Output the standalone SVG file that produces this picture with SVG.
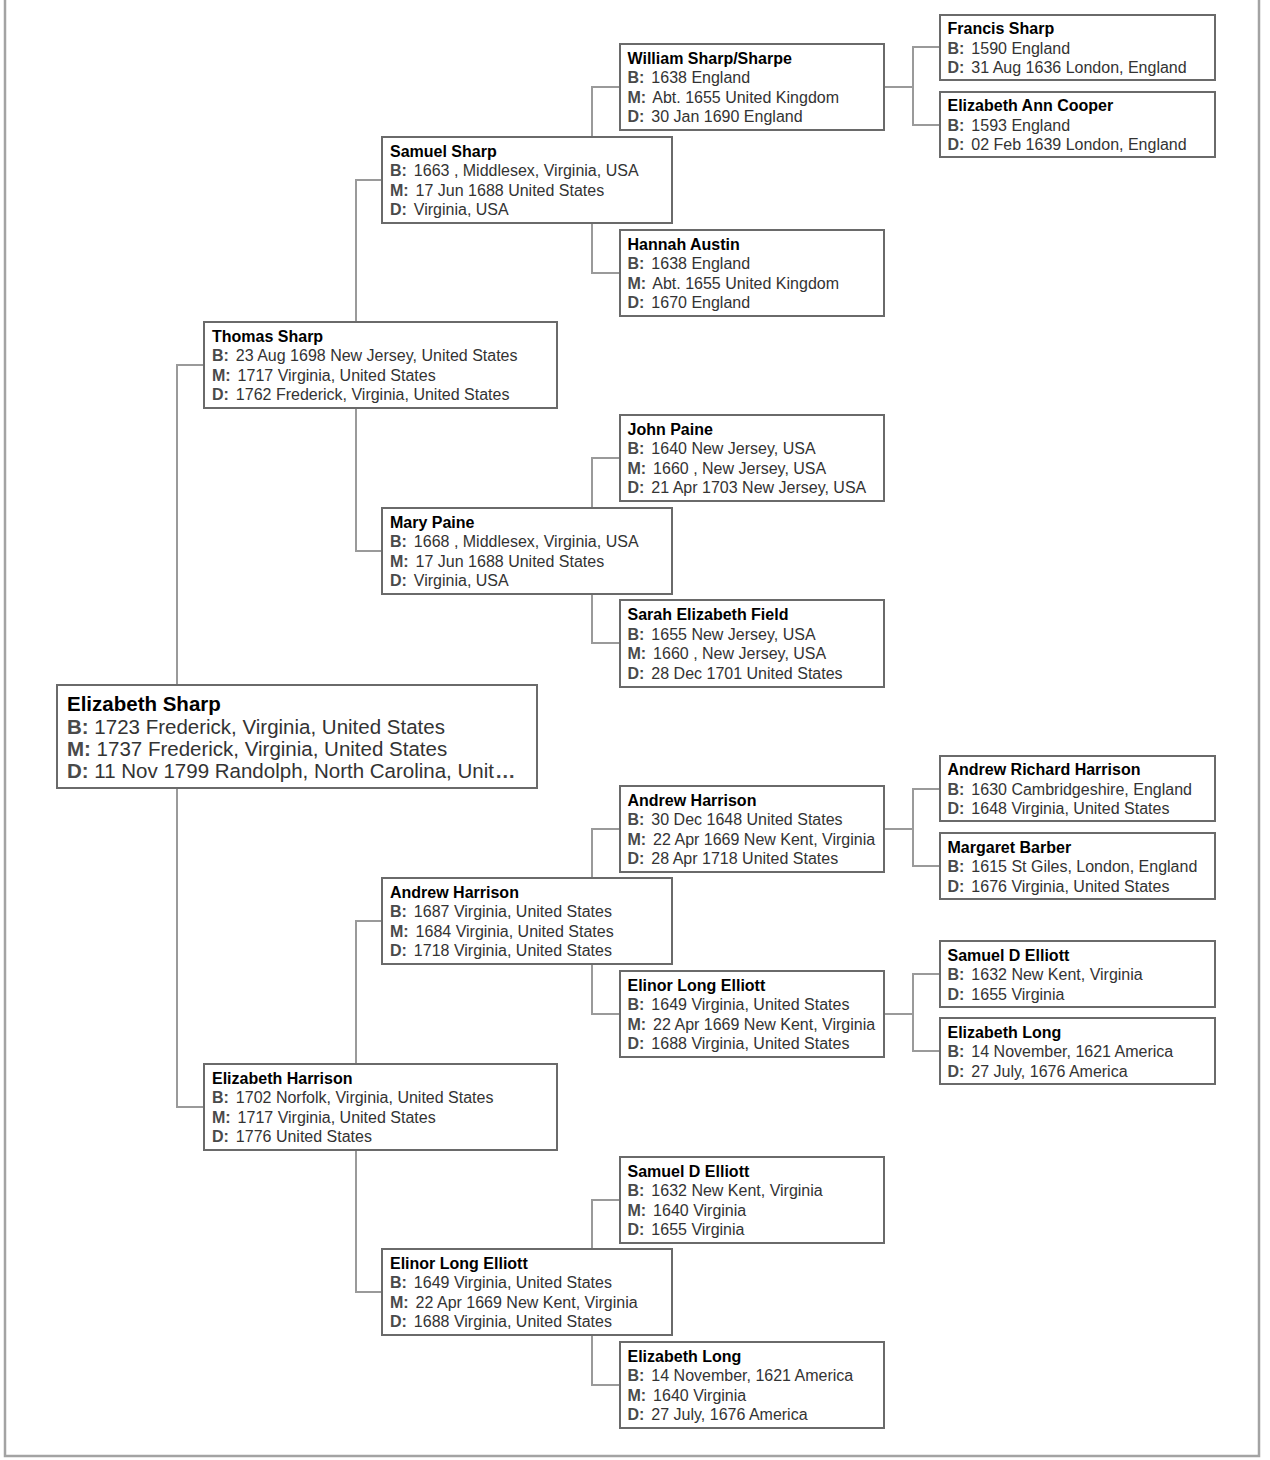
<svg xmlns="http://www.w3.org/2000/svg" width="1270" height="1460" viewBox="0 0 1270 1460">
<style>
.frame{fill:none;stroke:#a3a3a3;stroke-width:2.5}
.box{fill:#fff;stroke:#6a6a6a;stroke-width:2}
.con path{fill:none;stroke:#9a9a9a;stroke-width:2}
text{font-family:"Liberation Sans",Arial,Helvetica,sans-serif;font-size:16px;fill:#333}
text.n{font-weight:bold;fill:#000}
tspan.l{font-weight:bold;fill:#4a4a4a}
.big text{font-size:20.5px}
</style>
<rect width="1270" height="1460" fill="#fff"/>
<rect class="frame" x="5" y="-20" width="1254" height="1476"/>

<g class="con">
<path d="M177 685V365H204M177 788V1107H204"/>
<path d="M356 322V180H382M356 408V551H382"/>
<path d="M356 1064V921H382M356 1150V1292H382"/>
<path d="M592 137V87H620M592 223V273H620"/>
<path d="M592 508V458H620M592 594V643H620"/>
<path d="M592 878V829H620M592 964V1014H620"/>
<path d="M592 1249V1200H620M592 1335V1385H620"/>
<path d="M884 87H913M940 47H913V125H940"/>
<path d="M884 829H913M940 789H913V866H940"/>
<path d="M884 1014H913M940 974H913V1051H940"/>
</g>

<g id="francis-sharp" transform="translate(940,15)">
<rect class="box" width="275" height="65"/>
<text class="n" x="7.5" y="19">Francis Sharp</text>
<text x="7.5" y="38.5"><tspan class="l">B:</tspan><tspan dx="2.5"> 1590 England</tspan></text>
<text x="7.5" y="58"><tspan class="l">D:</tspan><tspan dx="2.5"> 31 Aug 1636 London, England</tspan></text>
</g>
<g id="elizabeth-ann-cooper" transform="translate(940,92)">
<rect class="box" width="275" height="65"/>
<text class="n" x="7.5" y="19">Elizabeth Ann Cooper</text>
<text x="7.5" y="38.5"><tspan class="l">B:</tspan><tspan dx="2.5"> 1593 England</tspan></text>
<text x="7.5" y="58"><tspan class="l">D:</tspan><tspan dx="2.5"> 02 Feb 1639 London, England</tspan></text>
</g>
<g id="william-sharp" transform="translate(620,44)">
<rect class="box" width="264" height="86"/>
<text class="n" x="7.5" y="19.5">William Sharp/Sharpe</text>
<text x="7.5" y="39"><tspan class="l">B:</tspan><tspan dx="2.5"> 1638 England</tspan></text>
<text x="7.5" y="58.5"><tspan class="l">M:</tspan><tspan dx="2.5"> Abt. 1655 United Kingdom</tspan></text>
<text x="7.5" y="78"><tspan class="l">D:</tspan><tspan dx="2.5"> 30 Jan 1690 England</tspan></text>
</g>
<g id="samuel-sharp" transform="translate(382,137)">
<rect class="box" width="290" height="86"/>
<text class="n" x="8" y="19.5">Samuel Sharp</text>
<text x="8" y="39"><tspan class="l">B:</tspan><tspan dx="2.5"> 1663 , Middlesex, Virginia, USA</tspan></text>
<text x="8" y="58.5"><tspan class="l">M:</tspan><tspan dx="2.5"> 17 Jun 1688 United States</tspan></text>
<text x="8" y="78"><tspan class="l">D:</tspan><tspan dx="2.5"> Virginia, USA</tspan></text>
</g>
<g id="hannah-austin" transform="translate(620,230)">
<rect class="box" width="264" height="86"/>
<text class="n" x="7.5" y="19.5">Hannah Austin</text>
<text x="7.5" y="39"><tspan class="l">B:</tspan><tspan dx="2.5"> 1638 England</tspan></text>
<text x="7.5" y="58.5"><tspan class="l">M:</tspan><tspan dx="2.5"> Abt. 1655 United Kingdom</tspan></text>
<text x="7.5" y="78"><tspan class="l">D:</tspan><tspan dx="2.5"> 1670 England</tspan></text>
</g>
<g id="thomas-sharp" transform="translate(204,322)">
<rect class="box" width="353" height="86"/>
<text class="n" x="8" y="19.5">Thomas Sharp</text>
<text x="8" y="39"><tspan class="l">B:</tspan><tspan dx="2.5"> 23 Aug 1698 New Jersey, United States</tspan></text>
<text x="8" y="58.5"><tspan class="l">M:</tspan><tspan dx="2.5"> 1717 Virginia, United States</tspan></text>
<text x="8" y="78"><tspan class="l">D:</tspan><tspan dx="2.5"> 1762 Frederick, Virginia, United States</tspan></text>
</g>
<g id="john-paine" transform="translate(620,415)">
<rect class="box" width="264" height="86"/>
<text class="n" x="7.5" y="19.5">John Paine</text>
<text x="7.5" y="39"><tspan class="l">B:</tspan><tspan dx="2.5"> 1640 New Jersey, USA</tspan></text>
<text x="7.5" y="58.5"><tspan class="l">M:</tspan><tspan dx="2.5"> 1660 , New Jersey, USA</tspan></text>
<text x="7.5" y="78"><tspan class="l">D:</tspan><tspan dx="2.5"> 21 Apr 1703 New Jersey, USA</tspan></text>
</g>
<g id="mary-paine" transform="translate(382,508)">
<rect class="box" width="290" height="86"/>
<text class="n" x="8" y="19.5">Mary Paine</text>
<text x="8" y="39"><tspan class="l">B:</tspan><tspan dx="2.5"> 1668 , Middlesex, Virginia, USA</tspan></text>
<text x="8" y="58.5"><tspan class="l">M:</tspan><tspan dx="2.5"> 17 Jun 1688 United States</tspan></text>
<text x="8" y="78"><tspan class="l">D:</tspan><tspan dx="2.5"> Virginia, USA</tspan></text>
</g>
<g id="sarah-elizabeth-field" transform="translate(620,600)">
<rect class="box" width="264" height="87"/>
<text class="n" x="7.5" y="20">Sarah Elizabeth Field</text>
<text x="7.5" y="39.5"><tspan class="l">B:</tspan><tspan dx="2.5"> 1655 New Jersey, USA</tspan></text>
<text x="7.5" y="59"><tspan class="l">M:</tspan><tspan dx="2.5"> 1660 , New Jersey, USA</tspan></text>
<text x="7.5" y="78.5"><tspan class="l">D:</tspan><tspan dx="2.5"> 28 Dec 1701 United States</tspan></text>
</g>
<g id="elizabeth-sharp" class="big" transform="translate(57,685)">
<rect class="box" width="480" height="103"/>
<text class="n" x="10" y="26">Elizabeth Sharp</text>
<text x="10" y="48.5"><tspan class="l">B:</tspan> 1723 Frederick, Virginia, United States</text>
<text x="10" y="70.5"><tspan class="l">M:</tspan> 1737 Frederick, Virginia, United States</text>
<text x="10" y="93"><tspan class="l">D:</tspan> 11 Nov 1799 Randolph, North Carolina, Unit<tspan class="l" dx="1">…</tspan></text>
</g>
<g id="andrew-richard-harrison" transform="translate(940,756)">
<rect class="box" width="275" height="65"/>
<text class="n" x="7.5" y="19">Andrew Richard Harrison</text>
<text x="7.5" y="38.5"><tspan class="l">B:</tspan><tspan dx="2.5"> 1630 Cambridgeshire, England</tspan></text>
<text x="7.5" y="58"><tspan class="l">D:</tspan><tspan dx="2.5"> 1648 Virginia, United States</tspan></text>
</g>
<g id="andrew-harrison-1648" transform="translate(620,786)">
<rect class="box" width="264" height="86"/>
<text class="n" x="7.5" y="19.5">Andrew Harrison</text>
<text x="7.5" y="39"><tspan class="l">B:</tspan><tspan dx="2.5"> 30 Dec 1648 United States</tspan></text>
<text x="7.5" y="58.5"><tspan class="l">M:</tspan><tspan dx="2.5"> 22 Apr 1669 New Kent, Virginia</tspan></text>
<text x="7.5" y="78"><tspan class="l">D:</tspan><tspan dx="2.5"> 28 Apr 1718 United States</tspan></text>
</g>
<g id="margaret-barber" transform="translate(940,833)">
<rect class="box" width="275" height="66"/>
<text class="n" x="7.5" y="19.5">Margaret Barber</text>
<text x="7.5" y="39"><tspan class="l">B:</tspan><tspan dx="2.5"> 1615 St Giles, London, England</tspan></text>
<text x="7.5" y="58.5"><tspan class="l">D:</tspan><tspan dx="2.5"> 1676 Virginia, United States</tspan></text>
</g>
<g id="andrew-harrison-1687" transform="translate(382,878)">
<rect class="box" width="290" height="86"/>
<text class="n" x="8" y="19.5">Andrew Harrison</text>
<text x="8" y="39"><tspan class="l">B:</tspan><tspan dx="2.5"> 1687 Virginia, United States</tspan></text>
<text x="8" y="58.5"><tspan class="l">M:</tspan><tspan dx="2.5"> 1684 Virginia, United States</tspan></text>
<text x="8" y="78"><tspan class="l">D:</tspan><tspan dx="2.5"> 1718 Virginia, United States</tspan></text>
</g>
<g id="samuel-d-elliott-a" transform="translate(940,941)">
<rect class="box" width="275" height="66"/>
<text class="n" x="7.5" y="19.5">Samuel D Elliott</text>
<text x="7.5" y="39"><tspan class="l">B:</tspan><tspan dx="2.5"> 1632 New Kent, Virginia</tspan></text>
<text x="7.5" y="58.5"><tspan class="l">D:</tspan><tspan dx="2.5"> 1655 Virginia</tspan></text>
</g>
<g id="elinor-long-elliott-a" transform="translate(620,971)">
<rect class="box" width="264" height="86"/>
<text class="n" x="7.5" y="19.5">Elinor Long Elliott</text>
<text x="7.5" y="39"><tspan class="l">B:</tspan><tspan dx="2.5"> 1649 Virginia, United States</tspan></text>
<text x="7.5" y="58.5"><tspan class="l">M:</tspan><tspan dx="2.5"> 22 Apr 1669 New Kent, Virginia</tspan></text>
<text x="7.5" y="78"><tspan class="l">D:</tspan><tspan dx="2.5"> 1688 Virginia, United States</tspan></text>
</g>
<g id="elizabeth-long-a" transform="translate(940,1018)">
<rect class="box" width="275" height="66"/>
<text class="n" x="7.5" y="19.5">Elizabeth Long</text>
<text x="7.5" y="39"><tspan class="l">B:</tspan><tspan dx="2.5"> 14 November, 1621 America</tspan></text>
<text x="7.5" y="58.5"><tspan class="l">D:</tspan><tspan dx="2.5"> 27 July, 1676 America</tspan></text>
</g>
<g id="elizabeth-harrison" transform="translate(204,1064)">
<rect class="box" width="353" height="86"/>
<text class="n" x="8" y="19.5">Elizabeth Harrison</text>
<text x="8" y="39"><tspan class="l">B:</tspan><tspan dx="2.5"> 1702 Norfolk, Virginia, United States</tspan></text>
<text x="8" y="58.5"><tspan class="l">M:</tspan><tspan dx="2.5"> 1717 Virginia, United States</tspan></text>
<text x="8" y="78"><tspan class="l">D:</tspan><tspan dx="2.5"> 1776 United States</tspan></text>
</g>
<g id="samuel-d-elliott-b" transform="translate(620,1157)">
<rect class="box" width="264" height="86"/>
<text class="n" x="7.5" y="19.5">Samuel D Elliott</text>
<text x="7.5" y="39"><tspan class="l">B:</tspan><tspan dx="2.5"> 1632 New Kent, Virginia</tspan></text>
<text x="7.5" y="58.5"><tspan class="l">M:</tspan><tspan dx="2.5"> 1640 Virginia</tspan></text>
<text x="7.5" y="78"><tspan class="l">D:</tspan><tspan dx="2.5"> 1655 Virginia</tspan></text>
</g>
<g id="elinor-long-elliott-b" transform="translate(382,1249)">
<rect class="box" width="290" height="86"/>
<text class="n" x="8" y="19.5">Elinor Long Elliott</text>
<text x="8" y="39"><tspan class="l">B:</tspan><tspan dx="2.5"> 1649 Virginia, United States</tspan></text>
<text x="8" y="58.5"><tspan class="l">M:</tspan><tspan dx="2.5"> 22 Apr 1669 New Kent, Virginia</tspan></text>
<text x="8" y="78"><tspan class="l">D:</tspan><tspan dx="2.5"> 1688 Virginia, United States</tspan></text>
</g>
<g id="elizabeth-long-b" transform="translate(620,1342)">
<rect class="box" width="264" height="86"/>
<text class="n" x="7.5" y="19.5">Elizabeth Long</text>
<text x="7.5" y="39"><tspan class="l">B:</tspan><tspan dx="2.5"> 14 November, 1621 America</tspan></text>
<text x="7.5" y="58.5"><tspan class="l">M:</tspan><tspan dx="2.5"> 1640 Virginia</tspan></text>
<text x="7.5" y="78"><tspan class="l">D:</tspan><tspan dx="2.5"> 27 July, 1676 America</tspan></text>
</g>
</svg>
